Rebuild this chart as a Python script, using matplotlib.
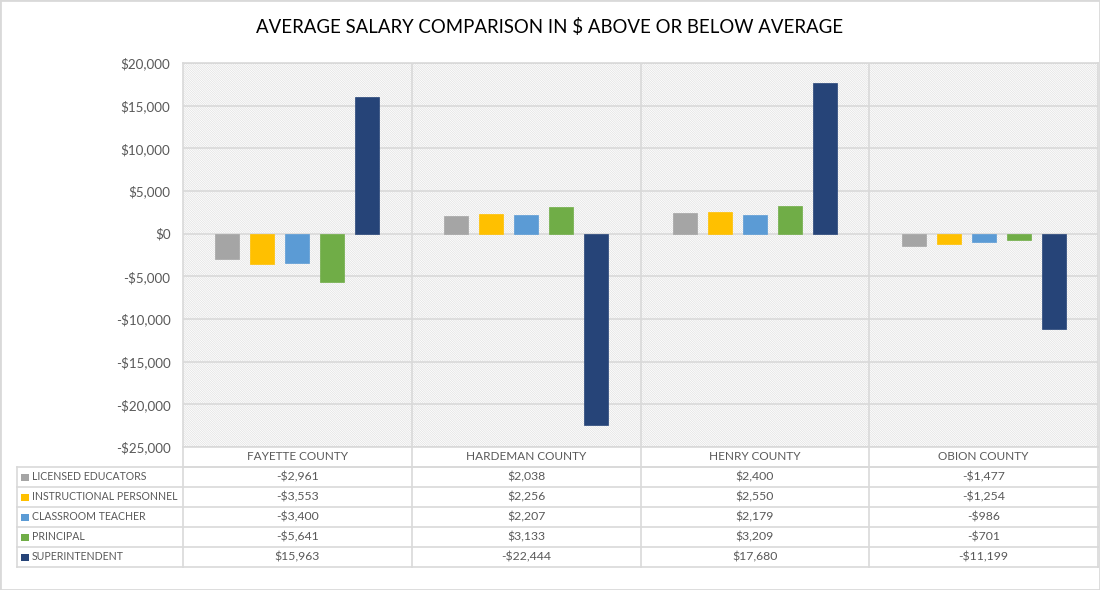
import matplotlib
matplotlib.use("Agg")
import matplotlib.pyplot as plt
from matplotlib import font_manager
from matplotlib.patches import Rectangle
from matplotlib.lines import Line2D
from matplotlib.ticker import FuncFormatter

counties = ["FAYETTE COUNTY", "HARDEMAN COUNTY", "HENRY COUNTY", "OBION COUNTY"]
series_names = ["LICENSED EDUCATORS", "INSTRUCTIONAL PERSONNEL", "CLASSROOM TEACHER",
                "PRINCIPAL", "SUPERINTENDENT"]
licensed = [-2961, 2038, 2400, -1477]
instructional = [-3553, 2256, 2550, -1254]
classroom = [-3400, 2207, 2179, -986]
principal = [-5641, 3133, 3209, -701]
superintendent = [15963, -22444, 17680, -11199]
series_values = [licensed, instructional, classroom, principal, superintendent]
colors = ["#A5A5A5", "#FFC000", "#5B9BD5", "#70AD47", "#264478"]

yticks = list(range(-25000, 20001, 5000))

txt = "#595959"
line_c = "#D9D9D9"
plt.rcParams['font.family'] = ['Lato', 'DejaVu Sans']
plt.rcParams['hatch.linewidth'] = 0.5

# narrow face for the title if one is there
title_family = ['Lato', 'DejaVu Sans']
try:
    font_manager.findfont('Liberation Sans Narrow', fallback_to_default=False)
    title_family = ['Liberation Sans Narrow', 'DejaVu Sans']
except Exception:
    pass


def money(v, pos=None):
    v = int(round(v))
    s = "${:,}".format(abs(v))
    return "-" + s if v < 0 else s


W, H = 1100, 590
fig = plt.figure(figsize=(11, 5.9), dpi=100)


def fx(px):
    return px / W


def fy(py):
    return 1 - py / H


# plot area in pixels
L, R, T, B = 183, 1098, 63, 447
ax = fig.add_axes([fx(L), fy(B), fx(R - L), fy(T) - fy(B)])
ax.set_xlim(-0.5, len(counties) - 0.5)
ax.set_ylim(-25000, 20000)

# hatched background
bg = Rectangle((0, 0), 1, 1, transform=ax.transAxes, facecolor="white",
               edgecolor="#E0E0E0", hatch="\\" * 15, linewidth=0, zorder=0)
ax.add_patch(bg)

# grid
for v in yticks:
    ax.axhline(v, color=line_c, linewidth=1.2, zorder=1)
for i in range(1, len(counties)):
    ax.axvline(i - 0.5, color=line_c, linewidth=1.2, zorder=1)

step = 0.153
width = 0.104
for k, vals in enumerate(series_values):
    xs = [i + (k - 2) * step for i in range(len(counties))]
    ax.bar(xs, vals, width=width, color=colors[k], zorder=3,
           edgecolor=colors[k], linewidth=0.5)

ax.set_yticks(yticks)
ax.yaxis.set_major_formatter(FuncFormatter(money))
ax.tick_params(axis="y", length=0, pad=9, labelsize=9.6, labelcolor=txt)
ax.set_xticks([])
for s in ax.spines.values():
    s.set_color(line_c)
    s.set_linewidth(1.2)

# title
fig.text(0.5, fy(27), "AVERAGE SALARY COMPARISON IN $ ABOVE OR BELOW AVERAGE",
         ha="center", va="center", fontsize=13.4, color="black", family=title_family)

# data table
row_h = 20
col_edges = [L] + [L + (R - L) * (i + 1) / len(counties) for i in range(len(counties))]
tbl_left = 17
n_rows = len(series_names)
bottom_tbl = B + row_h * (n_rows + 1)


def hline(x0, x1, y):
    fig.add_artist(Line2D([fx(x0), fx(x1)], [fy(y), fy(y)], color=line_c, linewidth=1.2))


def vline(x, y0, y1):
    fig.add_artist(Line2D([fx(x), fx(x)], [fy(y0), fy(y1)], color=line_c, linewidth=1.2))


hline(L, R, B + row_h)
for r in range(n_rows):
    hline(tbl_left, R, B + row_h * (r + 1))
hline(tbl_left, R, bottom_tbl)
vline(tbl_left, B + row_h, bottom_tbl)
for x in col_edges:
    vline(x, B, bottom_tbl)

for i, name in enumerate(counties):
    cx = (col_edges[i] + col_edges[i + 1]) / 2
    fig.text(fx(cx), fy(B + row_h / 2), name, ha="center", va="center",
             fontsize=8.5, color=txt)
    for r in range(n_rows):
        fig.text(fx(cx), fy(B + row_h * (r + 1.5)), money(series_values[r][i]),
                 ha="center", va="center", fontsize=8.8, color=txt)

for r, name in enumerate(series_names):
    yc = B + row_h * (r + 1.5)
    fig.add_artist(Rectangle((fx(21), fy(yc + 3.5)), fx(8), fy(yc - 3.5) - fy(yc + 3.5),
                             facecolor=colors[r], edgecolor="none"))
    fig.text(fx(32), fy(yc), name, ha="left", va="center", fontsize=7.6, color=txt)

# outer border
fig.add_artist(Rectangle((0, 0), 1, 1, transform=fig.transFigure, fill=False,
                         edgecolor=line_c, linewidth=2))

fig.savefig("out.png", dpi=100)
